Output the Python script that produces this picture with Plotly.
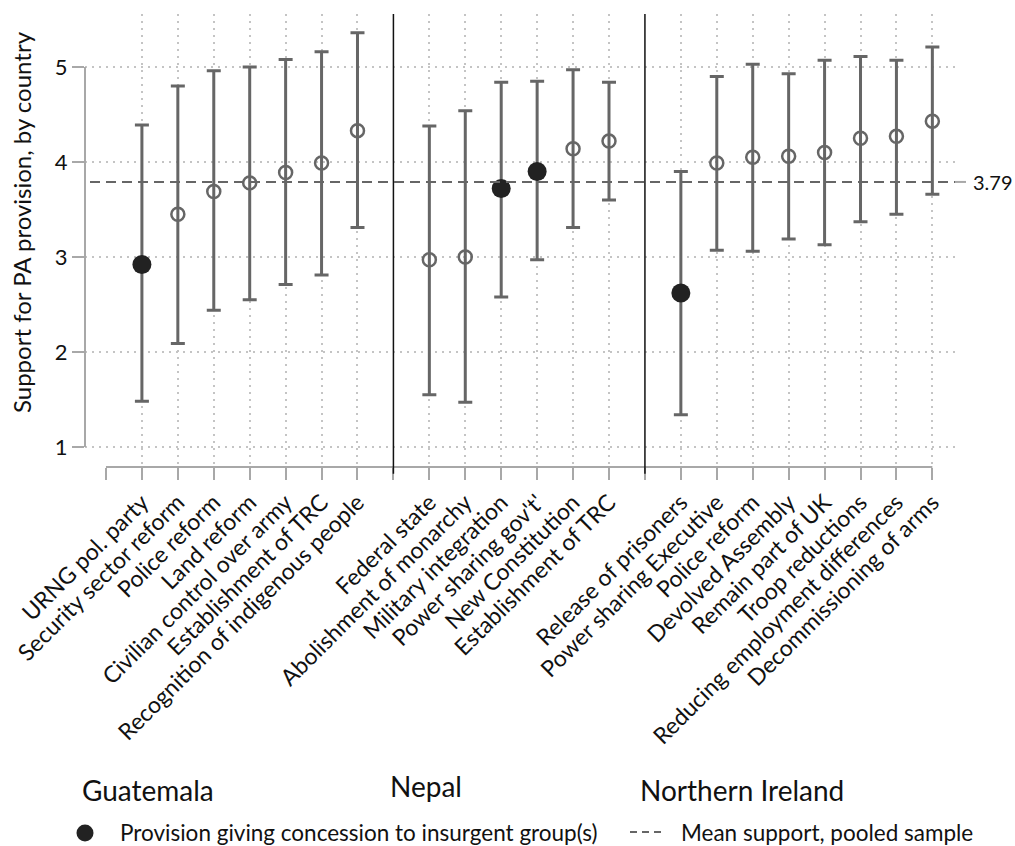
import plotly.graph_objects as go

# --- Data -------------------------------------------------------------------
guatemala_items = ["URNG pol. party", "Security sector reform", "Police reform",
                   "Land reform", "Civilian control over army",
                   "Establishment of TRC", "Recognition of indigenous people"]
guatemala_mean = [2.92, 3.45, 3.69, 3.78, 3.89, 3.99, 4.33]
guatemala_low = [1.48, 2.09, 2.44, 2.55, 2.71, 2.81, 3.31]
guatemala_high = [4.39, 4.80, 4.96, 5.00, 5.08, 5.16, 5.36]
guatemala_concession = [True, False, False, False, False, False, False]

nepal_items = ["Federal state", "Abolishment of monarchy", "Military integration",
               "Power sharing gov't'", "New Constitution", "Establishment of TRC"]
nepal_mean = [2.97, 3.00, 3.72, 3.90, 4.14, 4.22]
nepal_low = [1.55, 1.47, 2.58, 2.97, 3.31, 3.60]
nepal_high = [4.38, 4.54, 4.84, 4.85, 4.97, 4.84]
nepal_concession = [False, False, True, True, False, False]

ni_items = ["Release of prisoners", "Power sharing Executive", "Police reform",
            "Devolved Assembly", "Remain part of UK", "Troop reductions",
            "Reducing employment differences", "Decommissioning of arms"]
ni_mean = [2.62, 3.99, 4.05, 4.06, 4.10, 4.25, 4.27, 4.43]
ni_low = [1.34, 3.07, 3.06, 3.19, 3.13, 3.37, 3.45, 3.66]
ni_high = [3.90, 4.90, 5.03, 4.93, 5.07, 5.11, 5.07, 5.21]
ni_concession = [True, False, False, False, False, False, False, False]

pooled_mean = 3.79
countries = ["Guatemala", "Nepal", "Northern Ireland"]

# --- Positions: one slot gap between countries --------------------------------
groups = [
    (guatemala_items, guatemala_mean, guatemala_low, guatemala_high, guatemala_concession),
    (nepal_items, nepal_mean, nepal_low, nepal_high, nepal_concession),
    (ni_items, ni_mean, ni_low, ni_high, ni_concession),
]
pos, labels, means, lows, highs, conc = [], [], [], [], [], []
separators = []
p = 1
for gi, (items, m, lo, hi, c) in enumerate(groups):
    for k in range(len(items)):
        pos.append(p)
        labels.append(items[k])
        means.append(m[k]); lows.append(lo[k]); highs.append(hi[k]); conc.append(c[k])
        p += 1
    if gi < len(groups) - 1:
        separators.append(p)
        p += 1
last_pos = p - 1

W, H = 1015, 846
ML, MR, MT, MB = 85, 60, 14, 379
PW, PH = W - ML - MR, H - MT - MB


def px_x(x):
    return (x - ML) / PW


def px_y(y):
    return (H - MB - y) / PH


FONT = "Lato"
INK = "#111111"
GREY = "#666666"
AXGREY = "#a8a8a8"
GRID = "#c4c4c4"

fig = go.Figure()

open_idx = [i for i in range(len(pos)) if not conc[i]]
fill_idx = [i for i in range(len(pos)) if conc[i]]


def err_trace(idx, marker):
    return go.Scatter(
        x=[pos[i] for i in idx], y=[means[i] for i in idx], mode="markers",
        marker=marker, showlegend=False, hoverinfo="skip",
        error_y=dict(type="data", symmetric=False,
                     array=[highs[i] - means[i] for i in idx],
                     arrayminus=[means[i] - lows[i] for i in idx],
                     color=GREY, thickness=3, width=7),
    )


fig.add_trace(err_trace(open_idx, dict(symbol="circle-open", size=13, color=GREY,
                                       line=dict(width=2.5, color=GREY))))
fig.add_trace(err_trace(fill_idx, dict(symbol="circle", size=19, color="#222222")))

x0r, x1r = -0.584, 23.63
y0r, y1r = 0.789, 5.558

tick_vals = list(range(0, last_pos + 1))
lab_map = dict(zip(pos, labels))
tick_text = [lab_map.get(t, "") for t in tick_vals]

fig.update_xaxes(
    range=[x0r, x1r], tickmode="array", tickvals=tick_vals, ticktext=tick_text,
    tickangle=-45, ticks="outside", ticklen=12, tickwidth=2, tickcolor=AXGREY,
    showgrid=False, zeroline=False, showline=False,
    tickfont=dict(family=FONT, size=23, color=INK),
    minor=dict(tickmode="array", tickvals=pos, showgrid=True, gridcolor=GRID,
               gridwidth=1.5, griddash="2px,5px", ticks=""),
)
fig.update_yaxes(
    range=[y0r, y1r], tickmode="array", tickvals=[1, 2, 3, 4, 5],
    ticks="outside", ticklen=12, tickwidth=2, tickcolor=AXGREY,
    showgrid=True, gridcolor=GRID, gridwidth=1.5, griddash="2px,5px",
    zeroline=False, showline=False,
    tickfont=dict(family=FONT, size=22, color=INK),
)

shapes = []
# y axis line spanning the labelled range
shapes.append(dict(type="line", xref="paper", yref="y", x0=0, x1=0, y0=1, y1=5,
                   line=dict(color=AXGREY, width=2)))
# x axis line spanning the slots
shapes.append(dict(type="line", xref="x", yref="paper", x0=0, x1=last_pos, y0=0, y1=0,
                   line=dict(color=AXGREY, width=2)))
# country separators
for s in separators:
    shapes.append(dict(type="line", xref="x", yref="paper", x0=s, x1=s, y0=-0.015, y1=1,
                       line=dict(color=INK, width=1.5)))
# pooled mean
shapes.append(dict(type="line", xref="paper", yref="y", x0=px_x(90), x1=1,
                   y0=pooled_mean, y1=pooled_mean,
                   line=dict(color=GREY, width=2, dash="10px,6px")))
shapes.append(dict(type="line", xref="paper", yref="y", x0=1, x1=px_x(966),
                   y0=pooled_mean, y1=pooled_mean,
                   line=dict(color=AXGREY, width=2)))
# legend: filled dot and dashed sample
r = 8.5
shapes.append(dict(type="circle", xref="paper", yref="paper",
                   x0=px_x(85 - r), x1=px_x(85 + r), y0=px_y(833 + r), y1=px_y(833 - r),
                   fillcolor="#222222", line=dict(width=0)))
shapes.append(dict(type="line", xref="paper", yref="paper",
                   x0=px_x(630), x1=px_x(664), y0=px_y(832), y1=px_y(832),
                   line=dict(color=GREY, width=2, dash="7px,5px")))

annotations = [
    dict(xref="paper", yref="paper", x=px_x(21), y=px_y(222),
         text="Support for PA provision, by country", textangle=-90,
         showarrow=False, xanchor="center", yanchor="middle",
         font=dict(family=FONT, size=24, color=INK)),
    dict(xref="paper", yref="y", x=px_x(971), y=pooled_mean, text=f"{pooled_mean:.2f}",
         showarrow=False, xanchor="left", yanchor="middle",
         font=dict(family=FONT, size=20, color=INK)),
]
for name, xl, yc in zip(countries, [80, 388, 638], [790, 786, 790]):
    annotations.append(dict(xref="paper", yref="paper", x=px_x(xl), y=px_y(yc), text=name,
                            showarrow=False, xanchor="left", yanchor="middle",
                            font=dict(family=FONT, size=28, color=INK)))
annotations.append(dict(xref="paper", yref="paper", x=px_x(118), y=px_y(832),
                        text="Provision giving concession to insurgent group(s)",
                        showarrow=False, xanchor="left", yanchor="middle",
                        font=dict(family=FONT, size=22.5, color=INK)))
annotations.append(dict(xref="paper", yref="paper", x=px_x(679), y=px_y(832),
                        text="Mean support, pooled sample",
                        showarrow=False, xanchor="left", yanchor="middle",
                        font=dict(family=FONT, size=22.5, color=INK)))

fig.update_layout(
    width=W, height=H, margin=dict(l=ML, r=MR, t=MT, b=MB, autoexpand=False),
    paper_bgcolor="white", plot_bgcolor="white",
    shapes=shapes, annotations=annotations, showlegend=False,
)

fig.write_html("out.html")
